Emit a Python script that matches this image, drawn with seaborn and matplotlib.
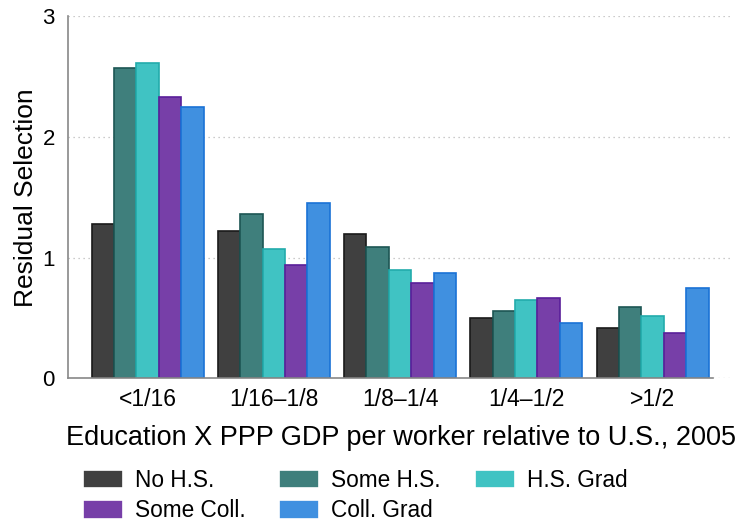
import pandas as pd
import seaborn as sns
import numpy as np
import matplotlib.pyplot as plt

# data
groups = ["<1/16", "1/16\u20131/8", "1/8\u20131/4", "1/4\u20131/2", ">1/2"]
levels = ["No H.S.", "Some H.S.", "H.S. Grad", "Some Coll.", "Coll. Grad"]
no_hs = [1.28, 1.22, 1.20, 0.50, 0.42]
some_hs = [2.57, 1.36, 1.09, 0.56, 0.59]
hs_grad = [2.61, 1.07, 0.90, 0.65, 0.52]
some_coll = [2.33, 0.94, 0.79, 0.67, 0.38]
coll_grad = [2.25, 1.45, 0.87, 0.46, 0.75]

fills = ["#404040", "#3f7f7c", "#40c3c3", "#773fa8", "#4090e0"]
edges = ["#1a1a1a", "#1d5654", "#22abab", "#5a1f9a", "#1a72d6"]

df = pd.DataFrame({
    "group": np.repeat(groups, len(levels)),
    "edu": levels * len(groups),
    "value": np.array([no_hs, some_hs, hs_grad, some_coll, coll_grad]).T.ravel(),
})

sns.set_style("white")
plt.rcParams["font.family"] = ["Liberation Sans", "DejaVu Sans"]
plt.rcParams["text.color"] = "black"
plt.rcParams["axes.labelcolor"] = "black"
plt.rcParams["xtick.color"] = "black"
plt.rcParams["ytick.color"] = "black"

fig = plt.figure(figsize=(7.36, 5.22), dpi=100)
ax = fig.add_axes([0.0924, 0.275, 0.904, 0.694])

sns.barplot(data=df, x="group", y="value", hue="edu", order=groups,
            hue_order=levels, palette=fills, width=0.887, saturation=1,
            linewidth=1.2, legend=True, ax=ax)

for cont, ec in zip(ax.containers, edges):
    for bar in cont:
        bar.set_edgecolor(ec)

ax.set_ylim(0, 3)
ax.set_xlim(-0.63, 4.64)
ax.set_yticks([0, 1, 2, 3])
ax.yaxis.grid(True, linestyle=(0, (1, 3)), color="#bbbbbb", linewidth=0.9)
ax.set_axisbelow(True)

for s in ["top", "right"]:
    ax.spines[s].set_visible(False)
for s in ["left", "bottom"]:
    ax.spines[s].set_color("#888888")
    ax.spines[s].set_linewidth(1.2)
ax.spines["bottom"].set_bounds(-0.63, 4.48)

ax.tick_params(axis="y", length=4.5, width=1.1, color="#888888", labelsize=16, pad=5)
ax.tick_params(axis="x", length=0, labelsize=16.5, pad=7)

ax.set_ylabel("Residual Selection", fontsize=19, labelpad=3)
ax.set_xlabel("Education X PPP GDP per worker relative to U.S., 2005", fontsize=19.5, labelpad=10)

handles, labels = ax.get_legend_handles_labels()
ax.get_legend().remove()
order = [0, 3, 1, 4, 2]
fig.legend([handles[i] for i in order], [labels[i] for i in order],
           loc="upper left", bbox_to_anchor=(0.1124, 0.1021), ncol=3, frameon=False,
           fontsize=16.3, handlelength=1.77, handleheight=0.88, handletextpad=0.53,
           columnspacing=1.5, labelspacing=0.34, borderpad=0, borderaxespad=0)

fig.savefig("out.png", dpi=100)
